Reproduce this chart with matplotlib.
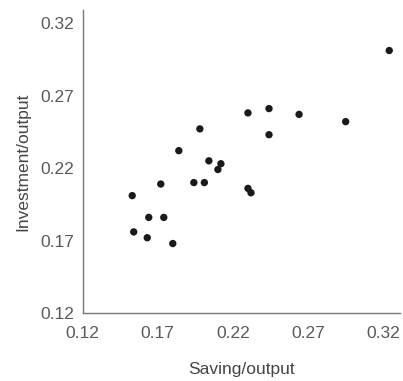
import matplotlib.pyplot as plt

# saving and investment shares
saving = [0.324, 0.230, 0.244, 0.264, 0.295, 0.244, 0.198, 0.184, 0.204, 0.212, 0.210,
          0.194, 0.201, 0.172, 0.230, 0.232, 0.153, 0.164, 0.174, 0.154, 0.163, 0.180]
investment = [0.301, 0.258, 0.261, 0.257, 0.252, 0.243, 0.247, 0.232, 0.225, 0.223, 0.219,
              0.210, 0.210, 0.209, 0.206, 0.203, 0.201, 0.186, 0.186, 0.176, 0.172, 0.168]
ticks = [0.12, 0.17, 0.22, 0.27, 0.32]

plt.rcParams['font.family'] = ['Liberation Sans', 'DejaVu Sans']

fig = plt.figure(figsize=(4.03, 3.81), dpi=100)
ax = fig.add_axes([0.205, 0.178, 0.787, 0.796])

ax.scatter(saving, investment, s=28, color='#1a1a1a', edgecolors='none')

ax.set_xlim(0.12, 0.331)
ax.set_ylim(0.12, 0.329)
ax.set_xticks(ticks)
ax.set_yticks(ticks)
ax.set_xticklabels(['%.2f' % t for t in ticks])
ax.set_yticklabels(['%.2f' % t for t in ticks])
ax.tick_params(length=0, labelsize=12.5, labelcolor='#5a5a5a')
ax.tick_params(axis='x', pad=9)
ax.tick_params(axis='y', pad=6)

for s in ['top', 'right']:
    ax.spines[s].set_visible(False)
for s in ['left', 'bottom']:
    ax.spines[s].set_color('#777777')
    ax.spines[s].set_linewidth(1)

ax.set_xlabel('Saving/output', fontsize=12.5, color='#444444', labelpad=15)
ax.set_ylabel('Investment/output', fontsize=12.5, color='#444444', labelpad=7)

fig.savefig('out.png', dpi=100)
